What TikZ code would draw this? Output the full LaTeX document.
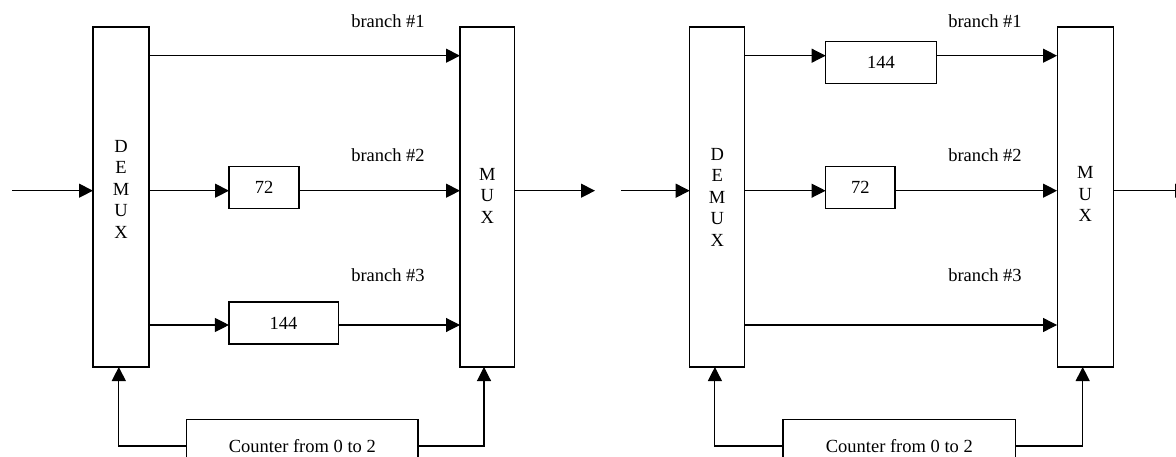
\documentclass[tikz,border=0pt]{standalone}
\usepackage{fontspec}
\setmainfont{Liberation Serif}
\usetikzlibrary{arrows.meta}
\begin{document}
\begin{tikzpicture}[x=1pt,y=-1pt,
  every node/.style={font=\fontsize{18.5}{21.5}\selectfont, inner sep=0pt, outer sep=0pt},
  blk/.style={draw, line width=1.1pt, minimum height=340pt},
  dly/.style={draw, line width=1.1pt},
  lbl/.style={anchor=center},
  conn/.style={line width=1.1pt},
  arr/.style={line width=1.1pt, -{Triangle[length=14pt,width=14pt]}}]
\useasboundingbox (0,0) rectangle (1176,457);

% ---------- left diagram ----------
\node[blk, minimum width=56pt] (demuxL) at (121,197) {};
\node[align=center] (demuxLt) at (121,189) {D\\E\\M\\U\\X};
\node[blk, minimum width=54.5pt] (muxL) at (487.25,197) {};
\node[align=center] (muxLt) at (487.25,195.5) {M\\U\\X};
\node[dly, minimum width=70pt, minimum height=41.6pt] (d72L) at (264,187.5) {72};
\node[dly, minimum width=109.3pt, minimum height=42pt] (d144L) at (283.6,323) {144};
\node[dly, minimum width=231.3pt, minimum height=53.4pt] (cntL) at (302.3,446) {Counter from 0 to 2};
\node[lbl] (b1L) at (388,21) {branch \#1};
\node[lbl] (b2L) at (388,155) {branch \#2};
\node[lbl] (b3L) at (388,275) {branch \#3};

\coordinate (inL) at (12,190.7);
\coordinate (outL) at (595,190.7);
\draw[arr] (inL) -- (demuxL.west |- inL);
\draw[arr] (muxL.east |- outL) -- (outL);
\draw[arr] (demuxL.east |- 0,55.7) -- (muxL.west |- 0,55.7);
\draw[arr] (demuxL.east |- 0,190.7) -- (d72L.west |- 0,190.7);
\draw[arr] (d72L.east |- 0,190.7) -- (muxL.west |- 0,190.7);
\draw[arr] (demuxL.east |- 0,325) -- (d144L.west |- 0,325);
\draw[arr] (d144L.east |- 0,325) -- (muxL.west |- 0,325);
\coordinate (cdL) at (118.8,367);
\coordinate (cmL) at (484,367);
\draw[arr] (cntL.west) -| (cdL);
\draw[arr] (cntL.east) -| (cmL);

% ---------- right diagram ----------
\node[blk, minimum width=55pt] (demuxR) at (717.2,197) {};
\node[align=center] (demuxRt) at (717.2,197) {D\\E\\M\\U\\X};
\node[blk, minimum width=56.7pt] (muxR) at (1085.4,197) {};
\node[align=center] (muxRt) at (1085.4,194) {M\\U\\X};
\node[dly, minimum width=110.7pt, minimum height=41.6pt] (d144R) at (881,62.5) {144};
\node[dly, minimum width=69.4pt, minimum height=41.6pt] (d72R) at (860.3,187.5) {72};
\node[dly, minimum width=232.6pt, minimum height=53.4pt] (cntR) at (899.3,446) {Counter from 0 to 2};
\node[lbl] (b1R) at (985,21) {branch \#1};
\node[lbl] (b2R) at (985,155) {branch \#2};
\node[lbl] (b3R) at (985,275) {branch \#3};

\coordinate (inR) at (621,190.7);
\coordinate (outR) at (1189,190.7);
\draw[arr] (inR) -- (demuxR.west |- inR);
\draw[arr] (muxR.east |- outR) -- (outR);
\draw[arr] (demuxR.east |- 0,55.7) -- (d144R.west |- 0,55.7);
\draw[arr] (d144R.east |- 0,55.7) -- (muxR.west |- 0,55.7);
\draw[arr] (demuxR.east |- 0,190.7) -- (d72R.west |- 0,190.7);
\draw[arr] (d72R.east |- 0,190.7) -- (muxR.west |- 0,190.7);
\draw[arr] (demuxR.east |- 0,325) -- (muxR.west |- 0,325);
\coordinate (cdR) at (714.9,367);
\coordinate (cmR) at (1082.7,367);
\draw[arr] (cntR.west) -| (cdR);
\draw[arr] (cntR.east) -| (cmR);
\end{tikzpicture}
\end{document}
